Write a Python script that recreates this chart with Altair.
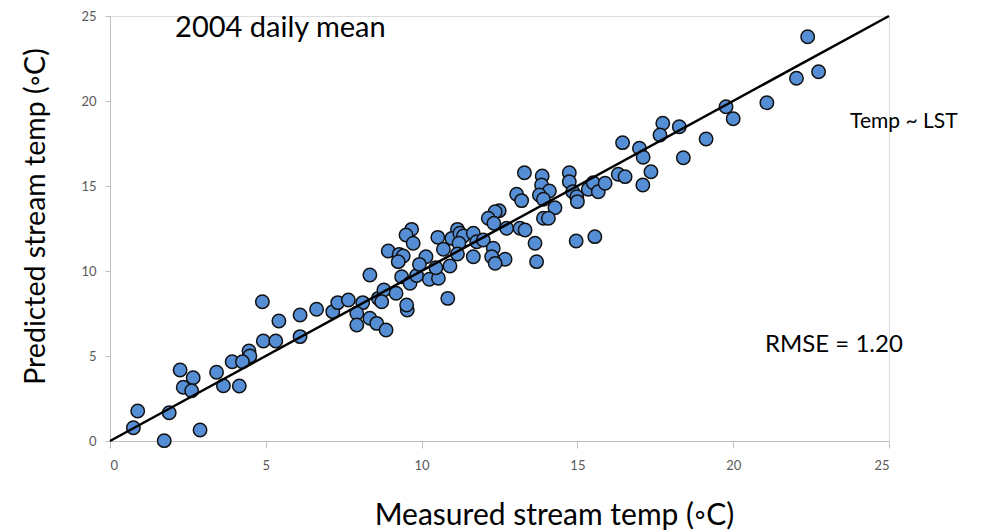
import altair as alt
import pandas as pd

# Measured (x) and predicted (y) daily mean stream temperature, degC
measured = [
    4.89, 5.42, 6.10, 4.92, 5.32, 6.10, 4.46, 4.49, 3.92, 4.25,
    2.25, 2.67, 3.42, 2.35, 2.62, 3.64, 4.15, 0.89, 1.90, 0.75,
    2.89, 1.74,
    6.63, 7.15, 7.31, 7.65, 8.11, 7.92, 7.92, 8.34, 8.56, 8.86,
    8.61, 8.79, 8.72, 9.18, 9.54, 9.52, 8.34, 9.36, 9.63, 9.84,
    10.25, 10.54, 10.84,
    9.68, 9.50, 9.73, 8.93, 9.28, 9.41, 9.25, 10.14, 9.93, 10.52,
    10.70, 11.15, 10.97, 11.23, 11.34, 11.20, 11.66, 11.77, 11.98, 11.15,
    11.66, 10.91, 10.46,
    13.30, 13.87, 14.74, 14.74, 13.85, 14.10, 13.78, 13.05, 13.21, 13.91,
    14.85, 14.98, 15.00, 15.35, 15.51, 15.67, 15.89, 14.28, 13.91, 14.07,
    12.49, 12.36, 12.14, 12.32, 12.73, 13.16, 13.32, 13.64, 13.69, 14.96,
    15.56, 12.30, 12.25, 12.68, 12.36,
    22.39, 22.74, 22.03, 21.08, 19.77, 20.00, 17.74, 18.27, 17.65, 16.45,
    16.99, 17.11, 19.13, 18.40, 17.36, 16.31, 16.53, 17.10,
]
predicted = [
    8.19, 7.06, 7.41, 5.88, 5.88, 6.14, 5.29, 5.00, 4.66, 4.66,
    4.18, 3.72, 4.04, 3.16, 2.96, 3.25, 3.24, 1.76, 1.66, 0.78,
    0.65, 0.02,
    7.75, 7.61, 8.14, 8.29, 8.14, 7.51, 6.82, 7.22, 6.92, 6.53,
    8.39, 8.88, 8.19, 8.69, 7.71, 8.00, 9.76, 9.66, 9.28, 9.74,
    9.51, 9.57, 8.39,
    12.45, 12.12, 11.63, 11.18, 10.98, 10.88, 10.55, 10.84, 10.39, 11.98,
    11.28, 12.45, 11.92, 12.22, 12.06, 11.63, 12.22, 11.72, 11.82, 11.00,
    10.84, 10.29, 10.19,
    15.78, 15.59, 15.78, 15.25, 15.06, 14.71, 14.47, 14.51, 14.14, 14.22,
    14.66, 14.37, 14.08, 14.81, 15.19, 14.66, 15.16, 13.72, 13.10, 13.10,
    13.55, 13.49, 13.10, 12.81, 12.51, 12.51, 12.41, 11.63, 10.55, 11.76,
    12.02, 11.34, 10.84, 10.69, 10.45,
    23.78, 21.72, 21.34, 19.90, 19.66, 18.96, 18.69, 18.49, 18.00, 17.55,
    17.22, 16.69, 17.76, 16.66, 15.84, 15.69, 15.55, 15.06,
]

fit_x = [0, 25]
fit_y = [0, 25]

ticks = [0, 5, 10, 15, 20, 25]

annotations_text = ["2004 daily mean", "Temp ~ LST", "RMSE = 1.20"]
annotations_x = [2.09, 23.75, 21.02]
annotations_y = [24.3, 18.76, 5.65]
annotations_size = [29, 21, 24]

FONT = "Lato"

pts = pd.DataFrame({"measured": measured, "predicted": predicted})
line_df = pd.DataFrame({"measured": fit_x, "predicted": fit_y})
ann = pd.DataFrame({"label": annotations_text, "x": annotations_x,
                    "y": annotations_y, "size": annotations_size})

xscale = alt.Scale(domain=[0, 25], nice=False, zero=False)
yscale = alt.Scale(domain=[0, 25], nice=False, zero=False)

xaxis = alt.Axis(values=ticks, title="Measured stream temp (◦C)", grid=False,
                 domainColor="#bfbfbf", tickColor="#bfbfbf", tickSize=7,
                 labelColor="#595959", labelFontSize=13, labelFont=FONT,
                 labelPadding=11, titleFont=FONT, titleFontSize=30,
                 titleFontWeight="normal", titleColor="#000000",
                 titleX=444, titleY=74, titleBaseline="middle")
yaxis = alt.Axis(values=ticks, title="Predicted stream temp (◦C)", grid=False,
                 domainColor="#bfbfbf", tickColor="#bfbfbf", tickSize=5,
                 labelColor="#595959", labelFontSize=13, labelFont=FONT,
                 labelPadding=9, titleFont=FONT, titleFontSize=28.5,
                 titleFontWeight="normal", titleColor="#000000",
                 titleX=-75, titleY=200, titleAngle=-90, titleBaseline="middle")

points = alt.Chart(pts).mark_point(
    shape="circle", filled=True, fill="#558ED5", stroke="#111111",
    strokeWidth=1.5, size=180, opacity=1
).encode(
    x=alt.X("measured:Q", scale=xscale, axis=xaxis),
    y=alt.Y("predicted:Q", scale=yscale, axis=yaxis),
)

fit = alt.Chart(line_df).mark_line(color="#000000", strokeWidth=2.5).encode(
    x=alt.X("measured:Q", scale=xscale),
    y=alt.Y("predicted:Q", scale=yscale),
)

labels = alt.Chart(ann).mark_text(
    align="left", baseline="middle", font=FONT, color="#000000"
).encode(
    x=alt.X("x:Q", scale=xscale),
    y=alt.Y("y:Q", scale=yscale),
    text="label:N",
    size=alt.Size("size:Q", scale=None, legend=None),
)

chart = alt.layer(points, fit, labels).properties(
    width=779, height=425,
    autosize=alt.AutoSizeParams(type="none"),
    padding={"left": 110, "top": 16, "right": 106, "bottom": 90},
).configure_view(stroke=None).configure(background="white")

chart.save("out.html", embed_options={"renderer": "svg", "actions": False})
